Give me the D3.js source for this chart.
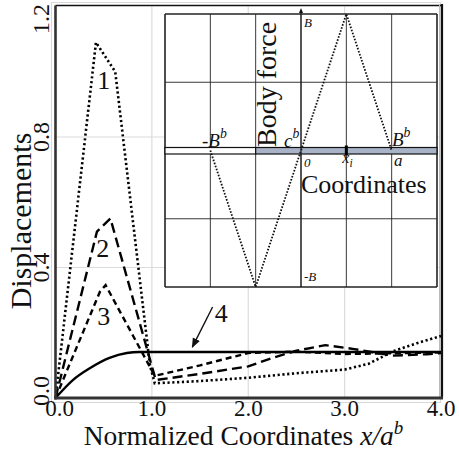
<!DOCTYPE html>
<html><head><meta charset="utf-8">
<script src="https://cdn.jsdelivr.net/npm/d3@7"></script>
<style>
html,body{margin:0;padding:0;background:#fff;}
svg{display:block;font-family:"Liberation Serif","Times New Roman",serif;}
</style></head>
<body>
<svg id="chart" width="459" height="451"></svg>
<script>
// ---- data ----
const xTicks = [0, 1, 2, 3, 4];
const yTicks = [0.0, 0.4, 0.8, 1.2];
const xTickLabels = ["0.0", "1.0", "2.0", "3.0", "4.0"];
const yTickLabels = ["0.0", "0.4", "0.8", "1.2"];
const curve1 = [[0,0],[0.42,1.09],[0.62,1.0],[0.98,0.10],[1.03,0.045],[1.5,0.052],[2.0,0.062],[2.5,0.076],[3.0,0.087],[3.25,0.105],[3.5,0.143],[3.75,0.168],[4.0,0.19]];
const curve2 = [[0,0],[0.43,0.51],[0.57,0.55],[1.04,0.055],[1.5,0.074],[2.0,0.097],[2.25,0.123],[2.5,0.145],[2.8,0.162],[3.1,0.15],[3.5,0.13],[3.85,0.134],[4.0,0.138]];
const curve3 = [[0,0],[0.46,0.325],[0.52,0.346],[1.03,0.068],[1.5,0.10],[2.0,0.138],[2.5,0.142],[3.0,0.135],[3.5,0.137],[4.0,0.14]];
const curve4 = [[0,0],[0.18,0.055],[0.36,0.092],[0.56,0.123],[0.74,0.138],[0.87,0.141],[1.0,0.141],[2.0,0.141],[3.0,0.141],[4.0,0.141]];
const curveLabels = [{t:"1",x:0.50,y:0.947},{t:"2",x:0.49,y:0.432},{t:"3",x:0.50,y:0.224},{t:"4",x:1.72,y:0.232}];
const arrow4 = [[1.63,0.279],[1.42,0.156]];
// inset (body force sketch)
const insetX = [-3,-2,-1,0,1,2,3];
const insetY = [-2,-1,0,1,2];
const forceShape = [[-2,0],[-1,-2],[1,2],[2,0]];
const bandFree = [-3,-1];
const bandBody = [-1,3];
const pointXi = 1;

// ---- layout ----
const svg = d3.select("#chart");
const x = d3.scaleLinear().domain([0,4]).range([55.5,441]);
const y = d3.scaleLinear().domain([0,1.2]).range([398,6.5]);

// outer light frame
svg.append("rect").attr("x",51.5).attr("y",2.5).attr("width",389).attr("height",400)
  .attr("fill","none").attr("stroke","#d8d8d8").attr("stroke-width",1);

// gridlines
svg.append("g").selectAll("line").data([1,2,3]).join("line")
  .attr("x1",d=>x(d)).attr("x2",d=>x(d)).attr("y1",y(0)).attr("y2",y(1.2))
  .attr("stroke","#dcdcdc").attr("stroke-width",1.2);
svg.append("g").selectAll("line").data([0.4,0.8]).join("line")
  .attr("x1",x(0)).attr("x2",x(4)).attr("y1",d=>y(d)).attr("y2",d=>y(d))
  .attr("stroke","#dcdcdc").attr("stroke-width",1.2);

// frame
svg.append("line").attr("x1",x(0)).attr("x2",x(4)+2).attr("y1",5.5).attr("y2",5.5).attr("stroke","#111").attr("stroke-width",1.3);
svg.append("line").attr("x1",x(4)+1).attr("x2",x(4)+1).attr("y1",4).attr("y2",y(0)).attr("stroke","#111").attr("stroke-width",2.2);
svg.append("line").attr("x1",x(4)-1.5).attr("x2",x(4)-1.5).attr("y1",5).attr("y2",y(0)).attr("stroke","#bbb").attr("stroke-width",1);

// inset
const ix = d3.scaleLinear().domain([-3,3]).range([165,437]);
const iy = d3.scaleLinear().domain([-2,2]).range([287,14]);
const ins = svg.append("g");
ins.append("rect").attr("x",ix(-3)).attr("y",iy(2)).attr("width",ix(3)-ix(-3)).attr("height",iy(-2)-iy(2)).attr("fill","#fff");
ins.selectAll("line.v").data(insetX).join("line").attr("class","v")
  .attr("x1",d=>ix(d)).attr("x2",d=>ix(d)).attr("y1",iy(-2)).attr("y2",iy(2))
  .attr("stroke","#222").attr("stroke-width",d=>(d===-3||d===3)?1.6:0.9);
ins.selectAll("line.h").data(insetY).join("line").attr("class","h")
  .attr("x1",ix(-3)).attr("x2",ix(3)).attr("y1",d=>iy(d)).attr("y2",d=>iy(d))
  .attr("stroke","#222").attr("stroke-width",d=>(d===-2||d===2)?1.6:0.9);
// band
ins.append("rect").attr("x",ix(bandFree[0])).attr("width",ix(bandFree[1])-ix(bandFree[0]))
  .attr("y",iy(0)-3).attr("height",6.5).attr("fill","#fff").attr("stroke","#111").attr("stroke-width",1.2);
ins.append("rect").attr("x",ix(bandBody[0])).attr("width",ix(bandBody[1])-ix(bandBody[0]))
  .attr("y",iy(0)-3).attr("height",6.5).attr("fill","#a9b3c7").attr("stroke","#111").attr("stroke-width",1.2);
ins.append("rect").attr("x",ix(pointXi)-1.5).attr("width",3).attr("y",iy(0)-5).attr("height",10).attr("fill","#000");
// vertical axis with arrow
ins.append("line").attr("x1",ix(0)).attr("x2",ix(0)).attr("y1",iy(-2)).attr("y2",iy(2)-3).attr("stroke","#111").attr("stroke-width",1);
ins.append("path").attr("d",`M${ix(0)},${iy(2)-6}l-2,5h4z`).attr("fill","#111");
// force shape
ins.append("path").datum(forceShape)
  .attr("d",d3.line().x(d=>ix(d[0])).y(d=>iy(d[1])))
  .attr("fill","none").attr("stroke","#111").attr("stroke-width",1.8).attr("stroke-dasharray","1.6,1.6");

// inset labels
function supText(g, xx, yy, main, sup, size, italic, sub){
  const t = g.append("text").attr("x",xx).attr("y",yy).attr("font-size",size)
    .attr("font-style",italic?"italic":"normal").attr("fill","#111");
  t.append("tspan").text(main);
  if(sup) t.append("tspan").attr("dy",-size*0.45).attr("font-size",size*0.72).text(sup);
  if(sub) t.append("tspan").attr("dy",size*0.3).attr("font-size",size*0.72).text(sub);
  return t;
}
supText(ins, ix(0)+3, iy(2)+13, "B", null, 13, true);
supText(ins, ix(0)+3, iy(-2)-6, "-B", null, 13, true);
supText(ins, 202, iy(0)-4, "-B", "b", 19, true);
supText(ins, 284, iy(0)-4, "c", "b", 19, true);
supText(ins, 392, iy(0)-5, "B", "b", 19, true);
supText(ins, ix(0)+3, iy(0)+16, "0", null, 13, true);
supText(ins, ix(pointXi)-4, iy(0)+12, "x", null, 16, true, "i");
supText(ins, 394, iy(0)+15.5, "a", null, 17, true);
ins.append("text").attr("transform",`translate(276,147) rotate(-90)`)
  .attr("font-size",28).attr("fill","#111").text("Body force");
ins.append("text").attr("x",ix(0)).attr("y",193).attr("font-size",26).attr("fill","#111").text("Coordinates");

// curves
const line = d3.line().x(d=>x(d[0])).y(d=>y(d[1]));
const lineSmooth = d3.line().x(d=>x(d[0])).y(d=>y(d[1])).curve(d3.curveMonotoneX);
const g = svg.append("g").attr("fill","none").attr("stroke","#000");
g.append("path").datum(curve4).attr("d",lineSmooth).attr("stroke-width",2.4);
g.append("path").datum(curve3).attr("d",line).attr("stroke-width",2.4).attr("stroke-dasharray","6,4");
g.append("path").datum(curve2).attr("d",line).attr("stroke-width",2.4).attr("stroke-dasharray","10,5");
g.append("path").datum(curve1).attr("d",line).attr("stroke-width",2.6).attr("stroke-dasharray","2.2,2.6");

// axes lines
svg.append("line").attr("x1",x(0)).attr("x2",x(0)).attr("y1",y(1.2)-1).attr("y2",y(0)+1.5).attr("stroke","#333").attr("stroke-width",2.6);
svg.append("line").attr("x1",x(0)-1.3).attr("x2",x(4)+2).attr("y1",y(0)).attr("y2",y(0)).attr("stroke","#333").attr("stroke-width",3);

// curve labels and arrow
svg.append("g").selectAll("text").data(curveLabels).join("text")
  .attr("x",d=>x(d.x)).attr("y",d=>y(d.y)).attr("text-anchor","middle")
  .attr("font-size",26).attr("fill","#111").text(d=>d.t);
svg.append("defs").append("marker").attr("id","ah").attr("viewBox","0 0 10 10")
  .attr("refX",9).attr("refY",5).attr("markerWidth",7).attr("markerHeight",7).attr("orient","auto")
  .append("path").attr("d","M0,1L10,5L0,9z").attr("fill","#111");
svg.append("line").attr("x1",x(arrow4[0][0])).attr("y1",y(arrow4[0][1]))
  .attr("x2",x(arrow4[1][0])).attr("y2",y(arrow4[1][1]))
  .attr("stroke","#111").attr("stroke-width",1.4).attr("marker-end","url(#ah)");

// tick labels
svg.append("g").selectAll("text").data(xTicks).join("text")
  .attr("x",(d,i)=>x(d)+(i===0?4:0)).attr("y",416).attr("text-anchor","middle")
  .attr("font-size",23).attr("fill","#111").text((d,i)=>xTickLabels[i]);
svg.append("g").selectAll("text").data(yTicks).join("text")
  .attr("transform",d=>`translate(49,${Math.max(19,Math.min(391,y(d)))}) rotate(-90)`)
  .attr("text-anchor","middle").attr("font-size",24).attr("fill","#111")
  .text((d,i)=>yTickLabels[i]);

// axis titles
const xt = svg.append("text").attr("x",243.5).attr("y",445).attr("text-anchor","middle")
  .attr("font-size",27.5).attr("fill","#111");
xt.append("tspan").text("Normalized Coordinates ");
xt.append("tspan").attr("font-style","italic").text("x/a");
xt.append("tspan").attr("font-style","italic").attr("font-size",19).attr("dy",-11).text("b");
svg.append("text").attr("transform","translate(31,221) rotate(-90)")
  .attr("text-anchor","middle").attr("font-size",30).attr("fill","#111").text("Displacements");
</script>
</body></html>
